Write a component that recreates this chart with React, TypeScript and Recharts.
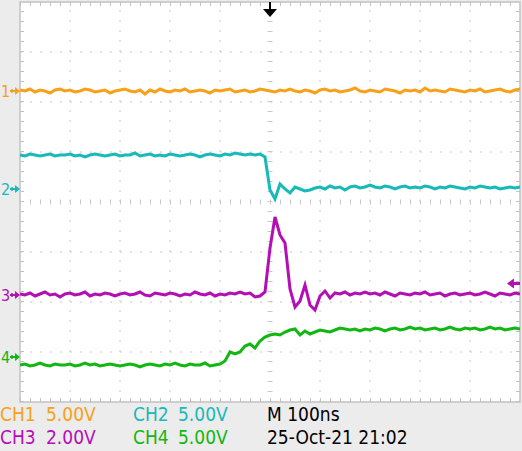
import {
  LineChart,
  Line,
  XAxis,
  YAxis,
  ReferenceLine,
  ReferenceArea,
  ReferenceDot,
} from "recharts";

// sample times, ns (100 ns/div, trigger at 0)
const TIME_NS = [
  -500, -490, -480, -470, -460, -450, -440, -430, -420, -410,
  -400, -390, -380, -370, -360, -350, -340, -330, -320, -310,
  -300, -290, -280, -270, -260, -250, -240, -230, -220, -210,
  -200, -190, -180, -170, -160, -150, -140, -130, -120, -110,
  -100, -90, -80, -70, -60, -50, -40, -30, -20, -10,
  0, 10, 20, 30, 40, 50, 60, 70, 80, 90,
  100, 110, 120, 130, 140, 150, 160, 170, 180, 190,
  200, 210, 220, 230, 240, 250, 260, 270, 280, 290,
  300, 310, 320, 330, 340, 350, 360, 370, 380, 390,
  400, 410, 420, 430, 440, 450, 460, 470, 480, 490,
  500,
];

// volts, relative to each channel's ground marker
const CH1_V = [
  0.1, 0, 0.2, -0.1, 0.1, 0, -0.2, 0.1, 0.2, 0,
  0.1, -0.1, 0, 0.2, 0.1, -0.1, 0, 0.1, -0.2, 0,
  0.1, 0.2, 0, -0.1, 0.1, -0.3, 0.1, -0.1, 0.2, 0,
  -0.1, 0.1, 0, 0.2, -0.1, 0, 0.1, 0, -0.2, 0.1,
  0, 0.1, 0.2, -0.1, 0, 0.1, -0.1, 0, 0.2, 0.1,
  0, -0.1, 0.1, 0, 0.2, 0, -0.1, 0.1, 0, -0.2,
  0.1, 0.2, 0, 0.1, -0.1, 0, 0.1, 0.3, 0, -0.1,
  0.1, 0, -0.1, 0.2, 0.1, 0, -0.2, 0.1, 0, 0.1,
  -0.1, 0.3, 0, 0.1, 0, -0.1, 0.2, 0.1, 0, -0.1,
  0.1, 0, 0.2, -0.1, 0, 0.1, 0.2, 0, -0.1, 0.1,
  0.2,
];

const CH2_V = [
  3.4, 3.3, 3.5, 3.4, 3.3, 3.4, 3.5, 3.3, 3.4, 3.4,
  3.5, 3.3, 3.4, 3.2, 3.4, 3.5, 3.4, 3.3, 3.4, 3.5,
  3.3, 3.4, 3.4, 3.6, 3.3, 3.4, 3.5, 3.3, 3.4, 3.3,
  3.5, 3.4, 3.3, 3.4, 3.5, 3.4, 3.2, 3.4, 3.5, 3.4,
  3.3, 3.5, 3.4, 3.6, 3.5, 3.4, 3.5, 3.4, 3.5, 3.2,
  -0.1, -1.0, 0.5, 0.0, -0.4, 0.2, 0, -0.2, -0.1, 0.1,
  0.2, 0, 0.3, 0.1, 0.2, -0.1, 0.2, 0.3, 0.1, 0.2,
  0.4, 0.2, 0.1, 0.3, 0.2, 0, 0.2, 0.3, 0.1, 0.2,
  0.1, 0.3, 0.2, 0, 0.2, 0.1, 0.3, 0.2, 0.1, 0,
  0.2, 0.1, 0.3, 0.2, 0.1, 0.2, 0, 0.1, 0.2, 0.1,
  0.2,
];

const CH3_V = [
  0.04, 0, 0.08, -0.04, 0.04, 0.12, 0, 0.04, -0.08, 0.04,
  0.08, 0, 0.04, 0.12, -0.04, 0.04, 0, 0.08, 0.04, -0.04,
  0.04, 0.08, 0, 0.04, 0.12, 0, -0.04, 0.08, 0.04, 0,
  0.08, 0.04, -0.04, 0.04, 0, 0.12, 0.04, 0, 0.08, -0.04,
  0.04, 0, 0.08, 0.04, 0.12, 0.04, 0.08, -0.08, -0.04, 0.12,
  1.88, 3.12, 2.4, 2.08, 0.24, -0.48, -0.24, 0.4, -0.4, -0.6,
  -0.04, 0.16, -0.12, 0.08, 0.04, 0.12, 0, 0.08, 0.04, 0.12,
  0.04, 0.08, 0, 0.12, 0.04, -0.04, 0.08, 0.04, 0, 0.08,
  0.04, 0.12, 0, 0.04, 0.08, -0.04, 0.04, 0.08, 0, 0.04,
  0.08, 0, 0.04, 0.12, 0.04, -0.04, 0.08, 0.04, 0, 0.08,
  0.04,
];

const CH4_V = [
  -0.8, -0.7, -0.9, -0.8, -0.6, -0.8, -0.9, -0.7, -0.8, -0.8,
  -0.7, -0.9, -0.8, -0.6, -0.8, -0.7, -0.9, -0.8, -0.7, -0.8,
  -0.9, -0.8, -0.7, -0.8, -1.0, -0.8, -0.7, -0.8, -0.9, -0.7,
  -0.8, -0.6, -0.8, -0.9, -0.7, -0.8, -0.8, -0.6, -0.9, -0.8,
  -0.7, -0.4, 0.5, 0.3, 0.5, 1.1, 1.3, 0.9, 1.6, 2.0,
  2.2, 2.3, 2.2, 2.5, 2.7, 2.8, 2.2, 2.6, 2.3, 2.5,
  2.7, 2.6, 2.5, 2.7, 2.9, 2.8, 2.7, 2.8, 2.6, 2.8,
  2.7, 2.9, 2.8, 2.6, 2.8, 2.9, 2.7, 2.8, 3.0, 2.8,
  2.9, 2.7, 2.8, 2.9, 2.7, 2.8, 3.0, 2.8, 2.7, 2.9,
  2.8, 2.9, 2.7, 2.8, 3.0, 2.8, 2.9, 2.7, 2.8, 2.9,
  2.8,
];

const CHANNEL_NAMES = ["1", "2", "3", "4"];
const VOLTS_PER_DIV = [5, 5, 2, 5];
const TRIGGER_TIME_NS = 0;

// screen layout of the scope (divisions from centre)
const CHANNELS = [
  { key: "ch1", volts: CH1_V, ground: 2.22, color: "#f7a11a" },
  { key: "ch2", volts: CH2_V, ground: 0.26, color: "#17b9b9" },
  { key: "ch3", volts: CH3_V, ground: -1.86, color: "#b40fb4" },
  { key: "ch4", volts: CH4_V, ground: -3.1, color: "#12b712" },
];
const TRIGGER_LEVEL_DIV = -1.63;

const GRID_X = [-400, -300, -200, -100, 100, 200, 300, 400];
const GRID_Y = [-3, -2, -1, 1, 2, 3];

const BG = "#ececec";
const FRAME = "#c2c2c2";
const DOTS = "#c8c8c8";
const FONT = '"DejaVu Sans Condensed", "DejaVu Sans", sans-serif';

const rows = TIME_NS.map((t, i) => {
  const row: Record<string, number> = { t };
  CHANNELS.forEach((ch, c) => {
    row[ch.key] = ch.ground + ch.volts[i] / VOLTS_PER_DIV[c];
  });
  return row;
});

function groundMarker(label: string, color: string) {
  return (props: any) => {
    const { cx, cy } = props;
    return (
      <g>
        <text x={cx - 19} y={cy + 6} fill={color} fontSize={16} fontFamily={FONT}>
          {label}
        </text>
        <path d={`M${cx - 10},${cy}H${cx - 3}`} stroke={color} strokeWidth={2} />
        <path d={`M${cx - 8},${cy - 2}V${cy + 2}`} stroke={color} strokeWidth={1.5} />
        <path d={`M${cx - 5},${cy - 4}L${cx},${cy}L${cx - 5},${cy + 4}Z`} fill={color} />
      </g>
    );
  };
}

function triggerLevelMarker(props: any) {
  const { cx, cy } = props;
  const color = CHANNELS[2].color;
  return (
    <g>
      <path d={`M${cx - 13},${cy}L${cx - 6},${cy - 5}L${cx - 6},${cy + 5}Z`} fill={color} />
      <path d={`M${cx - 7},${cy}H${cx}`} stroke={color} strokeWidth={3} />
    </g>
  );
}

function triggerTimeMarker(props: any) {
  const { cx, cy } = props;
  return (
    <g>
      <path d={`M${cx},${cy}V${cy + 9}`} stroke="#000" strokeWidth={2} />
      <path d={`M${cx - 7},${cy + 7}H${cx + 7}L${cx},${cy + 15}Z`} fill="#000" />
    </g>
  );
}

function Readout({ x, y, color, children }: any) {
  return (
    <div
      style={{
        position: "absolute",
        left: x,
        top: y,
        color,
        fontFamily: FONT,
        fontSize: 19,
        lineHeight: "19px",
        whiteSpace: "pre",
      }}
    >
      {children}
    </div>
  );
}

export default function App() {
  return (
    <div style={{ position: "relative", width: 522, height: 451, background: BG, overflow: "hidden" }}>
      <style>{`body{margin:0}`}</style>
      <LineChart
        width={522}
        height={451}
        data={rows}
        margin={{ top: 2, right: 2, bottom: 49, left: 20 }}
        style={{ position: "absolute", left: 0, top: 0 }}
      >
        <XAxis type="number" dataKey="t" domain={[-500, 500]} hide allowDataOverflow />
        <YAxis type="number" domain={[-4, 4]} hide allowDataOverflow />
        <ReferenceArea x1={-500} x2={500} y1={-4} y2={4} fill="#ffffff" fillOpacity={1} stroke={FRAME} strokeWidth={1.5} />
        {GRID_X.map((x) => (
          <ReferenceLine key={`gx${x}`} x={x} stroke={DOTS} strokeWidth={1} strokeDasharray="2 8" />
        ))}
        {GRID_Y.map((y) => (
          <ReferenceLine key={`gy${y}`} y={y} stroke={DOTS} strokeWidth={1} strokeDasharray="2 8" />
        ))}
        {/* centre crosshair and frame ticks */}
        <ReferenceLine x={0} stroke={DOTS} strokeWidth={5} strokeDasharray="1 9" />
        <ReferenceLine y={0} stroke={DOTS} strokeWidth={5} strokeDasharray="1 9" />
        <ReferenceLine x={-496} stroke={FRAME} strokeWidth={4} strokeDasharray="1 9" />
        <ReferenceLine x={496} stroke={FRAME} strokeWidth={4} strokeDasharray="1 9" />
        <ReferenceLine y={3.96} stroke={FRAME} strokeWidth={4} strokeDasharray="1 9" />
        <ReferenceLine y={-3.96} stroke={FRAME} strokeWidth={4} strokeDasharray="1 9" />
        {CHANNELS.map((ch) => (
          <Line
            key={ch.key}
            dataKey={ch.key}
            type="linear"
            stroke={ch.color}
            strokeWidth={3}
            dot={false}
            activeDot={false}
            isAnimationActive={false}
          />
        ))}
        {CHANNELS.map((ch, c) => (
          <ReferenceDot
            key={`m${ch.key}`}
            x={-500}
            y={ch.ground}
            r={0}
            ifOverflow="visible"
            shape={groundMarker(CHANNEL_NAMES[c], ch.color)}
          />
        ))}
        <ReferenceDot x={500} y={TRIGGER_LEVEL_DIV} r={0} ifOverflow="visible" shape={triggerLevelMarker} />
        <ReferenceDot x={TRIGGER_TIME_NS} y={4} r={0} ifOverflow="visible" shape={triggerTimeMarker} />
      </LineChart>

      <Readout x={0} y={405} color={CHANNELS[0].color}>CH1</Readout>
      <Readout x={46} y={405} color={CHANNELS[0].color}>5.00V</Readout>
      <Readout x={133} y={405} color={CHANNELS[1].color}>CH2</Readout>
      <Readout x={178} y={405} color={CHANNELS[1].color}>5.00V</Readout>
      <Readout x={267} y={405} color="#000">M 100ns</Readout>
      <Readout x={0} y={428} color={CHANNELS[2].color}>CH3</Readout>
      <Readout x={46} y={428} color={CHANNELS[2].color}>2.00V</Readout>
      <Readout x={133} y={428} color={CHANNELS[3].color}>CH4</Readout>
      <Readout x={178} y={428} color={CHANNELS[3].color}>5.00V</Readout>
      <Readout x={267} y={428} color="#000">25-Oct-21 21:02</Readout>
    </div>
  );
}
